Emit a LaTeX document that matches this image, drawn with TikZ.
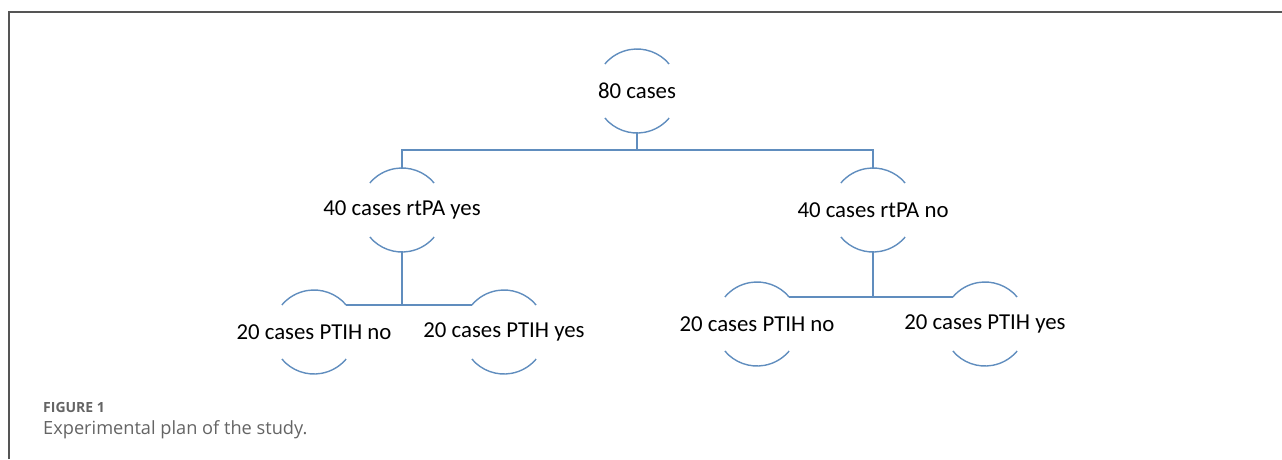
\documentclass[tikz,border=0pt]{standalone}
\usepackage{fontspec}
\setmainfont{Carlito}
\newfontfamily\capfont{Open Sans}
\usepackage{tikz}
\usetikzlibrary{positioning}
\definecolor{arcblue}{RGB}{96,141,190}
\definecolor{framegray}{RGB}{85,85,85}
\definecolor{capgray}{RGB}{100,100,100}
\newcommand{\halfarcs}[1]{%
        \draw[arcline] ([shift={(40:42pt)}]#1.center) arc[start angle=40,end angle=140,radius=42pt];
        \draw[arcline] ([shift={(220:42pt)}]#1.center) arc[start angle=220,end angle=320,radius=42pt];}

\begin{document}
\begin{tikzpicture}[x=1pt,y=-1pt,
        casetext/.style={font=\fontsize{22.8}{26}\selectfont,text=black,inner sep=0pt},
        arcline/.style={draw=arcblue,line width=1.4pt},
        link/.style={draw=arcblue,line width=1.4pt}]
        \useasboundingbox (0,0) rectangle (1282,459);
        \draw[framegray,line width=1.4pt] (9,459) -- (9,12) -- (1282,12);

        \node[casetext] (n80) at (637,91){80 cases};
        \node[casetext] (ryes) at (402,210){40 cases rtPA yes};
        \node[casetext] (rno) at (873,210){40 cases rtPA no};
        \node[casetext] (pno1) at (314,332){20 cases PTIH no};
        \node[casetext] (pyes1) at (504,332){20 cases PTIH yes};
        \node[casetext] (pno2) at (757,324){20 cases PTIH no};
        \node[casetext] (pyes2) at (985,324){20 cases PTIH yes};

        \halfarcs{n80}
        \halfarcs{ryes}
        \halfarcs{rno}
        \halfarcs{pno1}
        \halfarcs{pyes1}
        \halfarcs{pno2}
        \halfarcs{pyes2}

        \coordinate (j1) at (637,150);
        \coordinate (j2) at (402,305);
        \coordinate (j3) at (873,297);
        \draw[link] ([yshift=-42pt]n80.center) -- (j1);
        \draw[link] ([yshift=42pt]ryes.center) |- (j1) -| ([yshift=42pt]rno.center);
        \draw[link] ([yshift=-42pt]ryes.center) -- (j2);
        \draw[link] ([shift={(40:42pt)}]pno1.center) -- ([shift={(140:42pt)}]pyes1.center);
        \draw[link] ([yshift=-42pt]rno.center) -- (j3);
        \draw[link] ([shift={(40:42pt)}]pno2.center) -- ([shift={(140:42pt)}]pyes2.center);

        \node[anchor=base west,inner sep=0pt,text=capgray,font=\capfont\bfseries\fontsize{14}{16}\selectfont] (fig) at (43,412){FIGURE 1};
        \node[anchor=base west,inner sep=0pt,text=capgray,font=\capfont\fontsize{18.2}{21}\selectfont] (cap) at (43,434){Experimental plan of the study.};
\end{tikzpicture}
\end{document}
